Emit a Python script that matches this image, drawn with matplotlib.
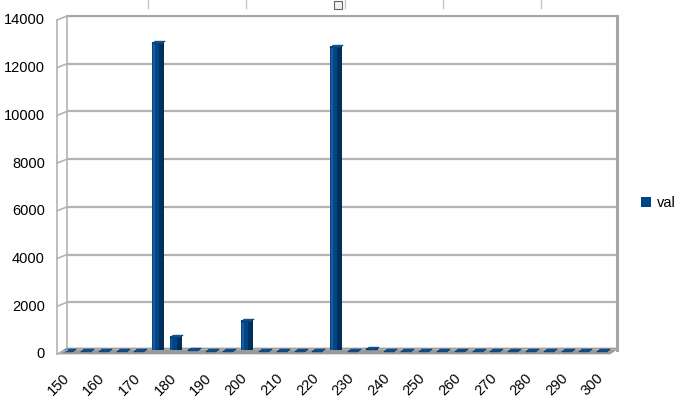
import matplotlib
matplotlib.use("Agg")
import matplotlib.pyplot as plt
from matplotlib.patches import Polygon, Rectangle
from matplotlib.lines import Line2D
from matplotlib.transforms import ScaledTranslation
import numpy as np

plt.rcParams['font.family'] = ['Liberation Sans', 'DejaVu Sans']

categories = list(range(150, 305, 5))
values = [0, 0, 0, 0, 0, 12900, 600, 60, 0, 0, 1250, 0, 0, 0, 0, 12750,
          0, 100, 0, 0, 0, 0, 0, 0, 0, 0, 0, 0, 0, 0, 0]
series_name = "val"
yticks = [0, 2000, 4000, 6000, 8000, 10000, 12000, 14000]

W, H = 681, 398
fig = plt.figure(figsize=(W / 100, H / 100), dpi=100)

def fx(px):
    return px / W

def fy(py):
    return 1 - py / H

left_px, right_px, top_px, bot_px = 67, 617, 16, 350
ax = fig.add_axes([fx(left_px), fy(bot_px), (right_px - left_px) / W, (bot_px - top_px) / H])
ax.patch.set_visible(False)

idx = np.arange(len(categories))
ax.set_xlim(-0.12, 30.78)
ax.set_ylim(0, 14000)

blue = '#004586'
bw = 0.68
bars = ax.bar(idx, values, width=bw, color=blue, zorder=3, label=series_name)
# shading (darker right side, lighter left edge)
ax.bar(idx + bw * 0.3, values, width=bw * 0.4, color='#002f5e', zorder=4)
ax.bar(idx - bw * 0.36, values, width=bw * 0.14, color='#1b5c9c', zorder=4)

# top faces
verts = [(-1, -0.2), (0.5, -0.2), (1, 0.2), (-0.5, 0.2), (-1, -0.2)]
ax.plot(idx, values, linestyle='none', marker=verts, markersize=9.5,
        markerfacecolor='#0b4f91', markeredgecolor='#003a70', markeredgewidth=0.5,
        zorder=5, clip_on=False)

# grid / walls
ax.set_yticks(yticks)
ax.yaxis.grid(True, color='#b3b3b3', linewidth=1.6, zorder=0)
ax.set_axisbelow(True)
ax.spines['bottom'].set_visible(False)
ax.spines['left'].set_color('#b3b3b3')
ax.spines['left'].set_linewidth(1.2)
ax.spines['top'].set_color('#a6a6a6')
ax.spines['top'].set_linewidth(1.5)
ax.spines['right'].set_color('#a6a6a6')
ax.spines['right'].set_linewidth(2.2)

ax.tick_params(axis='y', length=0, pad=16, labelsize=10.5, labelcolor='#000000')
ax.set_yticklabels([str(v) for v in yticks])
for lab in ax.get_yticklabels():
    lab.set_transform(lab.get_transform() + ScaledTranslation(0, -3 / 100, fig.dpi_scale_trans))

ax.set_xticks(idx[::2])
ax.set_xticklabels([str(c) for c in categories[::2]], rotation=45, ha='right',
                   va='top', rotation_mode='anchor', fontsize=10.5)
ax.tick_params(axis='x', length=0, pad=13)
for lab in ax.get_xticklabels():
    lab.set_transform(lab.get_transform() + ScaledTranslation(-7 / 100, -3 / 100, fig.dpi_scale_trans))

# left wall slanted lines
pix_per_y = (bot_px - top_px) / 14000.0
for v in yticks:
    yb = bot_px - v * pix_per_y
    fig.add_artist(Line2D([fx(57), fx(67)], [fy(yb + 4), fy(yb)], color='#b3b3b3', linewidth=1.2))
fig.add_artist(Line2D([fx(57), fx(57)], [fy(top_px + 4), fy(bot_px + 4)], color='#b3b3b3', linewidth=1.2))

# floor
floor = Polygon([(fx(67), fy(348)), (fx(619), fy(348)), (fx(610), fy(354)), (fx(57), fy(354))],
                closed=True, facecolor='#9a9a9a', edgecolor='#9a9a9a', linewidth=0.5, zorder=-1)
fig.add_artist(floor)

# top artifacts
for xp in [148, 246, 345, 443, 541]:
    fig.add_artist(Line2D([fx(xp), fx(xp)], [fy(0), fy(8)], color='#c8c8c8', linewidth=1))
fig.add_artist(Rectangle((fx(334), fy(9)), 8 / W, 8 / H, facecolor='#f0f0f0', edgecolor='#666666', linewidth=0.8))

# legend
fig.legend(handles=[bars], labels=[series_name], loc='center left',
           bbox_to_anchor=(fx(628), fy(203)), frameon=False, fontsize=10.5,
           handlelength=0.7, handleheight=0.7, handletextpad=0.4)

fig.savefig('out.png', dpi=100)
